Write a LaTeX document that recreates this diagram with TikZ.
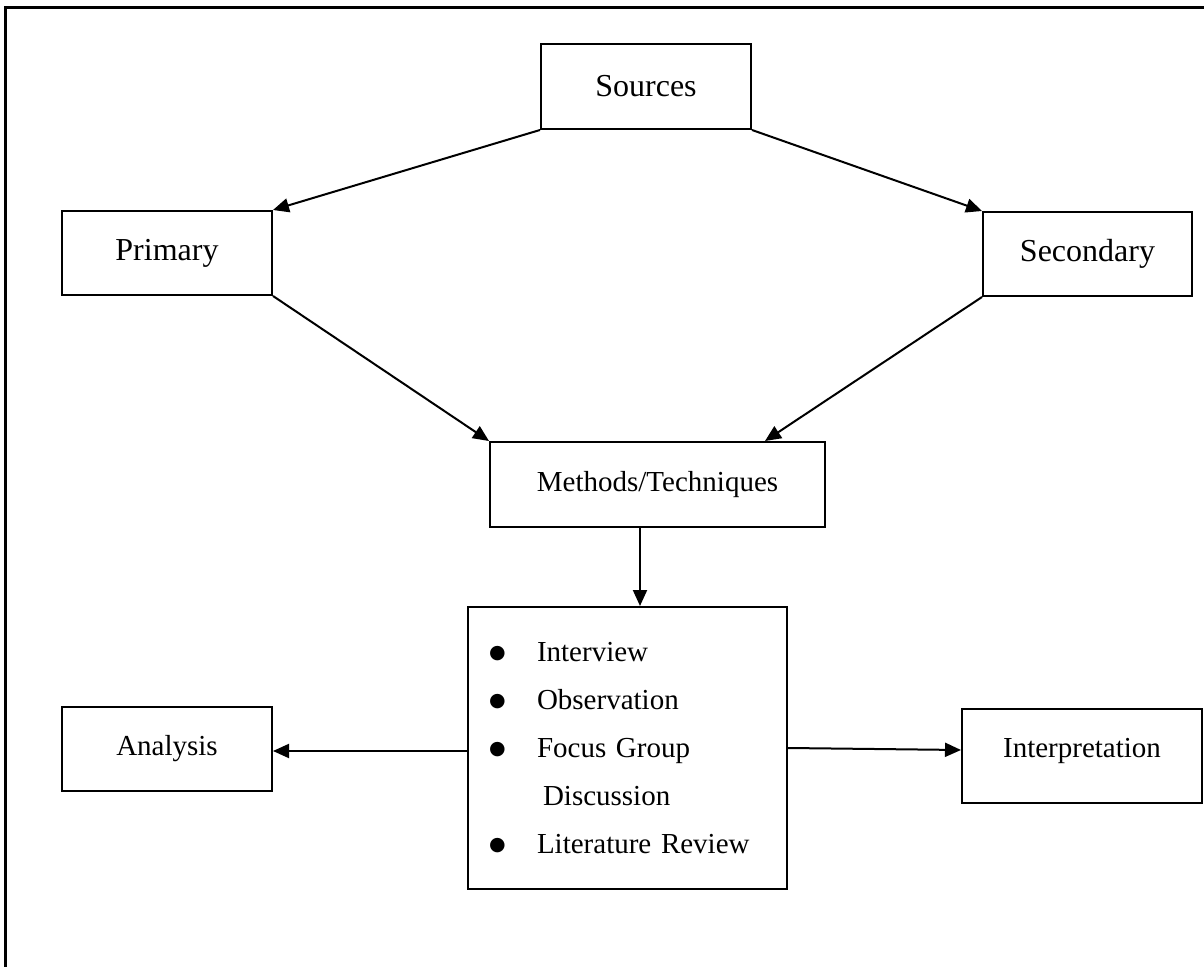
\documentclass[tikz,border=0pt]{standalone}
\usepackage{fontspec}
\setmainfont{Liberation Serif}
\newfontfamily\symfont{DejaVu Sans}
\usetikzlibrary{arrows.meta}
\newcommand{\itm}{\makebox[24pt][l]{\raisebox{1.5pt}{\symfont\fontsize{9.5}{10}\selectfont ●}}}
\begin{document}
\begin{tikzpicture}[
			x=0.5pt, y=-0.5pt,
			blk/.style={draw, line width=1pt, inner sep=0pt, font=\fontsize{14.5}{17}\selectfont},
			topblk/.style={blk, font=\fontsize{16}{19}\selectfont},
			arr/.style={line width=1pt, -{Triangle[length=8pt,width=7pt]}}
		]
		\useasboundingbox (0,0) rectangle (1204,967);
		\draw[line width=1.5pt] (5,967) -- (5,8) -- (1204,8);
		\node[topblk, minimum width=105pt, minimum height=42.5pt] (src) at (646,86.5) {Sources};
		\node[topblk, minimum width=105pt, minimum height=42pt] (prim) at (167,253) {Primary};
		\node[topblk, minimum width=104.5pt, minimum height=42pt] (sec) at (1087.5,254) {Secondary};
		\node[blk, minimum width=167.5pt, minimum height=42.5pt] (meth) at (657.5,484.5) {Methods/Techniques};
		\node[blk, minimum width=159.5pt, minimum height=141pt, text width=138.5pt, inner xsep=10.5pt,
			align=left, font=\fontsize{14.5}{24}\selectfont] (list) at (627.5,748) {%
				\itm Interview\\
				\itm Observation\\
				\itm Focus Group\\
				\hspace*{27pt}Discussion\\
				\itm Literature Review};
		\node[blk, minimum width=105pt, minimum height=42pt] (ana) at (167,749) {Analysis};
		\node[blk, minimum width=120pt, text height=24pt, text depth=23pt] (interp) at (1082,756) {Interpretation};
		\draw[arr] (src.south west) -- (prim.north east);
		\draw[arr] (src.south east) -- (sec.north west);
		\draw[arr] (prim.south east) -- (meth.north west);
		\draw[arr] (sec.south west) -- ([xshift=-30.5pt]meth.north east);
		\draw[arr] ([xshift=-8.75pt]meth.south) -- ([xshift=-8.75pt]meth.south |- list.north);
		\draw[arr] ([yshift=-1.5pt]list.west) -- ([yshift=-1.5pt]list.west -| ana.east);
		\draw[arr] (list.east) -- ([yshift=3pt]interp.west);
	\end{tikzpicture}
\end{document}
